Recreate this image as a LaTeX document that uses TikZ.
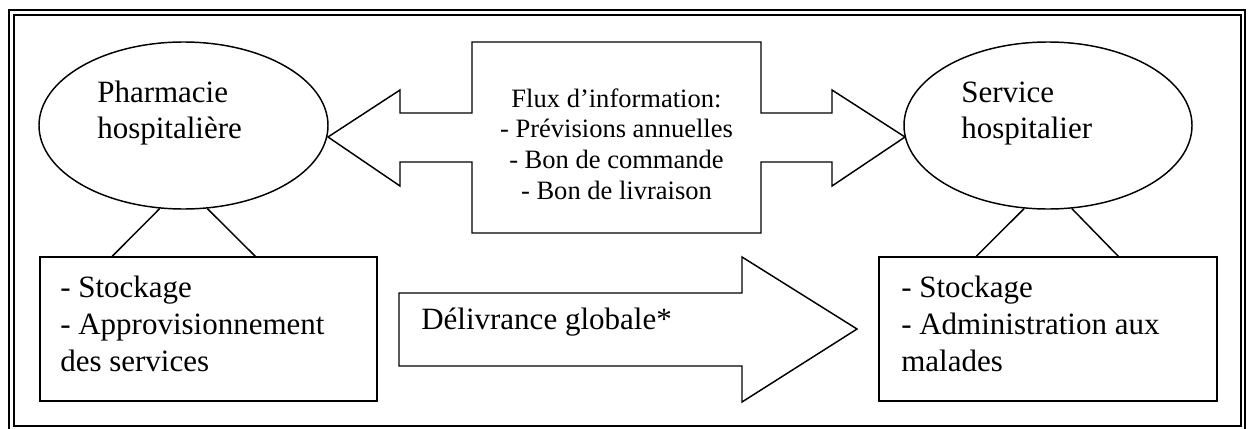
\documentclass[tikz,border=0pt]{standalone}
\usepackage{fontspec}
\setmainfont{Liberation Serif}
\usetikzlibrary{shapes.geometric}
\tikzset{
  shapeline/.style={draw=black, line width=1.1pt},
  bigtext/.style={font=\fontsize{23.25pt}{27pt}\selectfont, inner sep=0pt, align=left},
  boxtext/.style={font=\fontsize{23.25pt}{27.75pt}\selectfont, inner sep=0pt, align=left},
  smalltext/.style={font=\fontsize{19.9pt}{23pt}\selectfont, inner sep=0pt, align=center},
  ell/.style={shapeline, ellipse, inner sep=0pt, minimum height=125.25pt},
  box/.style={shapeline, rectangle, inner sep=0pt, minimum height=108pt},
  framel/.style={draw=black, line width=1.5pt}
}
\begin{document}
\begin{tikzpicture}[x=0.75pt,y=-0.75pt]
\useasboundingbox (0,0) rectangle (1248,428);
% double frame
\draw[framel] (9,10) rectangle (1245,431);
\draw[framel] (14,15) rectangle (1241,425.5);

% ellipses
\node[ell, minimum width=216.75pt] (pharm) at (183.5,125.5) {};
\node[ell, minimum width=216pt] (serv) at (1048,125.5) {};
\node[bigtext, anchor=base west] (pharmt) at (97,138) {Pharmacie\\hospitalière};
\node[bigtext, anchor=base west] (servt) at (961,138) {Service\\hospitalier};

% boxes
\node[box, minimum width=252.75pt] (lbox) at (208.5,329) {};
\node[box, minimum width=253.5pt] (rbox) at (1048,329) {};
\node[boxtext, anchor=base west] (lboxt) at (60,371) {- Stockage\\- Approvisionnement\\des services};
\node[boxtext, anchor=base west] (rboxt) at (901,371) {- Stockage\\- Administration aux\\malades};

% links ellipse -> box
\draw[shapeline] (pharm.254) -- ([xshift=54.75pt]lbox.north west);
\draw[shapeline] (pharm.286) -- ([xshift=162pt]lbox.north west);
\draw[shapeline] (serv.254) -- ([xshift=73.5pt]rbox.north west);
\draw[shapeline] (serv.286) -- ([xshift=180pt]rbox.north west);

% double arrow (information flow)
\draw[shapeline, line join=miter] (328,137) -- (400,90) -- (400,113) -- (472,113) -- (472,42)
  -- (761,42) -- (761,113) -- (832,113) -- (832,90) -- (905,137) -- (832,186) -- (832,162)
  -- (761,162) -- (761,233) -- (472,233) -- (472,162) -- (400,162) -- (400,186) -- cycle;
\node[smalltext, anchor=base] (flux) at (616.5,199) {Flux d’information:\\- Prévisions annuelles\\- Bon de commande\\- Bon de livraison};

% delivery arrow
\draw[shapeline, line join=miter] (399,293) -- (742,293) -- (742,257) -- (857,329)
  -- (742,402) -- (742,366) -- (399,366) -- cycle;
\node[bigtext, anchor=base west] (deliv) at (421,329) {Délivrance globale*};
\end{tikzpicture}
\end{document}
